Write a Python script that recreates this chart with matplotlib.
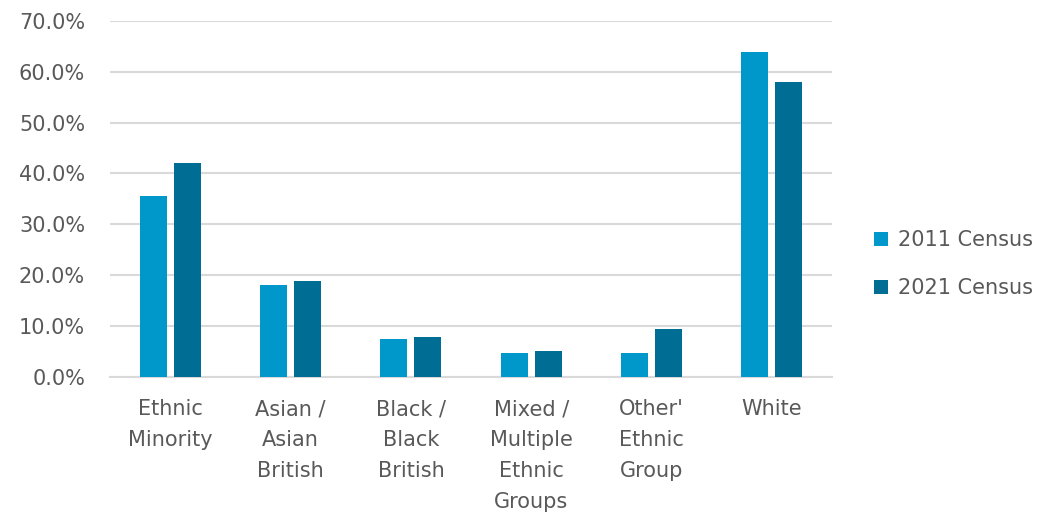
import numpy as np
import matplotlib.pyplot as plt
from matplotlib.ticker import PercentFormatter

# values (percent of population)
categories = ["Ethnic\nMinority", "Asian /\nAsian\nBritish", "Black /\nBlack\nBritish",
              "Mixed /\nMultiple\nEthnic\nGroups", "Other'\nEthnic\nGroup", "White"]
census_2011 = [35.6, 18.0, 7.4, 4.8, 4.8, 63.8]
census_2021 = [42.0, 18.8, 7.8, 5.2, 9.5, 57.9]
series_labels = ["2011 Census", "2021 Census"]
yticks = [0, 10, 20, 30, 40, 50, 60, 70]

color_2011 = "#0098CA"
color_2021 = "#006D95"
text_color = "#595959"
grid_color = "#D9D9D9"

plt.rcParams['font.family'] = ['DejaVu Sans']

fig = plt.figure(figsize=(10.51, 5.17), dpi=100)
ax = fig.add_axes([0.1047, 0.2708, 0.687, 0.689])

x = np.arange(len(categories))
width = 0.225
offset = 0.1415
ax.bar(x - offset, census_2011, width, color=color_2011, label=series_labels[0], zorder=3)
ax.bar(x + offset, census_2021, width, color=color_2021, label=series_labels[1], zorder=3)

ax.set_xlim(-0.5, len(categories) - 0.5)
ax.set_ylim(0, 70)
ax.set_yticks(yticks)
ax.yaxis.set_major_formatter(PercentFormatter(decimals=1))
ax.set_xticks(x)
ax.set_xticklabels(categories, linespacing=1.69, va="top")

ax.grid(axis="y", color=grid_color, linewidth=1.5, zorder=0)
for s in ["top", "right", "left"]:
    ax.spines[s].set_visible(False)
ax.spines["bottom"].set_color(grid_color)
ax.spines["bottom"].set_linewidth(1.5)
ax.tick_params(axis="both", length=0, labelsize=15, colors=text_color)
ax.tick_params(axis="y", pad=18)
ax.tick_params(axis="x", pad=16)

fig.legend(loc="center left", bbox_to_anchor=(0.8135, 0.489), frameon=False,
           fontsize=15, labelcolor=text_color, handlelength=0.7, handleheight=0.7,
           handletextpad=0.45, labelspacing=1.35)

fig.savefig("out.png", dpi=100)
